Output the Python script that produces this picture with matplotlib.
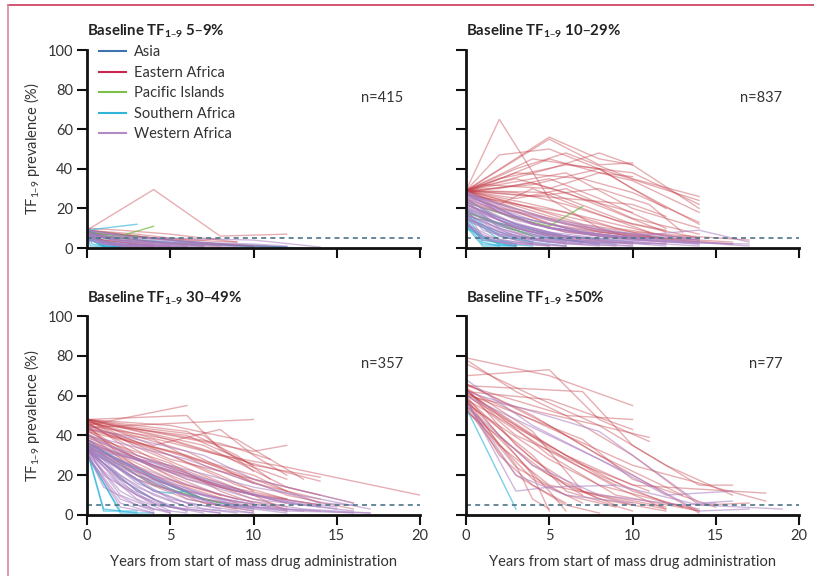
import matplotlib
matplotlib.use('Agg')
import matplotlib.pyplot as plt
from matplotlib.lines import Line2D

plt.rcParams['font.family'] = ['Lato', 'DejaVu Sans']
plt.rcParams['mathtext.default'] = 'regular'

regions = ['Asia', 'Eastern Africa', 'Pacific Islands', 'Southern Africa', 'Western Africa']
region_colors = ['#3f73b0', '#c8254f', '#7cbf4a', '#30b4d8', '#b48ac4']
trace_colors = ['#3f73b0', '#c4404a', '#6fb83c', '#22b0d8', '#a97cc0']
panel_titles = ['5–9%', '10–29%', '30–49%', '≥50%']
panel_n = ['n=415', 'n=837', 'n=357', 'n=77']
x_ticks = [0, 5, 10, 15, 20]
y_ticks = [0, 20, 40, 60, 80, 100]
threshold = 5

# ---- Panel 1: baseline 5-9% (each string: "year,TF year,TF ...")
p1_asia = ["0,9 1,6 3,4 6,2 10,1 13,0", "0,8 2,5 5,3 9,1 12,0.5", "0,9 1,5 2,3 4,1",
           "0,7 1,3 3,1 6,0.5", "0,6 2,2 4,1", "0,9 0.5,4 2,2", "0,8 1,7 4,5 8,2 10,0.5",
           "0,5 1,1 3,0.5", "0,10 1,3 2,1", "0,7 2,4 4,3 7,1", "0,9 3,6 6,3 12,0.5"]
p1_east = ["0,9 4,29.5 8,6 12,7", "0,10 2,9 5,7 9,3", "0,9 3,7 6,4 9,3", "0,7 2,5 5,2 8,1",
           "0,6 1,4 3,2 5,1", "0,8 2,4 4,2", "0,9 4,5 7,4 8,5", "0,8 3,6 6,3 10,1",
           "0,5 2,3 4,1"]
p1_pacific = ["0,8 2,6 4,11", "0,6 2,5 3,6"]
p1_south = ["0,9 3,12", "0,10 0.3,2 1,1 3,1", "0,9 0.2,1 2,0.5", "0,8 1,2 2,1",
            "0,7 0.5,3 1,1", "0,5 1,1 2,0.5", "0,10 0.5,7 1,2"]
p1_west = ["0,6 5,5 10,4 14,0.5", "0,7 2,4 4,2 7,1", "0,8 1,3 3,1 6,0.5", "0,5 2,2 5,1",
           "0,9 3,5 6,3 10,2 12,1", "0,6 1,2 3,1", "0,4 2,1 4,0.5", "0,7 4,3 8,2",
           "0,8 0.5,4 2,2 4,1", "0,7 1,2 2,1 5,0.5", "0,9 2,3 4,2 6,1 9,0.5",
           "0,6 3,3 6,2 9,1", "0,8 1,5 3,3 5,2", "0,5 1,3 2,1 4,0.5",
           "0,9 2,6 5,4 8,2 11,1", "0,7 3,2 6,1", "0,4 1,2 3,1 7,0.5"]

# ---- Panel 2: baseline 10-29%
p2_asia = ["0,20 2,12 4,6 7,3", "0,15 2,8 5,3", "0,18 3,10 6,4 9,2", "0,12 1,5 3,2",
           "0,25 2,14 5,7 8,4", "0,16 4,9 7,3", "0,22 3,12 6,6 10,3", "0,14 2,7 4,3 6,1",
           "0,19 2,11 5,5 8,2", "0,27 3,16 7,8 11,4"]
p2_east = ["0,29 2,65 5,25 8,10 10,5", "0,29 2,47 5,50 8,40 10,30 14,12",
           "0,29 5,56 8,45 10,42", "0,29 5,55 8,42 10,43", "0,29 3,40 6,48 10,35 14,26",
           "0,29 4,45 8,40 14,24", "0,29 5,40 8,48 10,42 14,20", "0,29 2,35 6,42 10,38 14,22",
           "0,29 3,38 7,35 10,28 14,13", "0,29 4,32 8,40 12,20", "0,29 2,30 5,35 8,25 12,10",
           "0,29 6,38 10,20 14,10", "0,29 3,25 6,30 10,15 14,7", "0,28 4,33 7,25 10,18",
           "0,29 5,28 10,12 14,5", "0,27 3,22 6,18 9,10 12,4", "0,29 2,20 5,15 8,8 12,5",
           "0,29 4,20 7,12 10,8 17,4", "0,26 3,18 6,10 10,6 14,3", "0,29 2,22 4,30 7,20 11,8",
           "0,25 3,15 6,8 10,5", "0,28 2,18 5,10 8,6", "0,29 5,18 9,10 14,4 16,3",
           "0,24 4,12 8,6 12,3", "0,29 3,35 6,28 9,18 12,8", "0,29 1,32 5,30 8,38 10,34 14,18",
           "0,22 3,10 6,5 10,2", "0,29 6,25 10,22 12,16", "0,29 4,26 8,30 11,22 13,8",
           "0,28 5,45 8,38 10,36", "0,29 5,12 10,6 16,2", "0,29 3,20 6,12 9,8 12,5 14,4",
           "0,29 4,22 8,14 12,6 14,5", "0,27 2,24 5,16 8,9 11,6", "0,29 3,28 6,22 9,14 12,9"]
p2_pacific = ["0,23 3,15 5,11 7,21", "0,18 2,12 4,6"]
p2_south = ["0,14 1,3 2,1", "0,12 1,2 3,1", "0,16 1,5 2,2", "0,11 1,1 3,1", "0,10 2,2 4,1",
            "0,18 2,6 4,3", "0,13 1,4 3,1", "0,17 2,4 3,2"]
p2_west = ["0,28 3,18 7,10 10,6 14,9 17,3", "0,26 4,14 8,7 12,4 16,2", "0,25 2,15 5,8 8,5 14,2",
           "0,22 3,10 6,4 10,2", "0,20 2,9 4,4 7,2", "0,27 5,15 10,7 14,4", "0,18 1,6 3,3 6,1",
           "0,15 2,6 4,2", "0,24 3,12 6,6 9,3 12,1", "0,20 4,8 8,4 14,1", "0,12 2,4 4,2",
           "0,28 2,20 4,12 8,6 11,5", "0,23 5,10 10,5 17,1", "0,17 3,6 6,3", "0,14 1,5 3,1",
           "0,21 2,12 5,6 8,3 12,2", "0,19 3,8 6,3 9,1", "0,26 3,14 6,8 10,4 14,3",
           "0,16 2,7 5,3 8,1", "0,29 2,18 5,10 9,6 14,4", "0,24 2,10 4,5 6,2",
           "0,13 1,4 3,2 6,1", "0,27 4,12 8,6 12,3 17,2", "0,22 4,9 7,4 11,2", "0,18 2,8 4,3",
           "0,25 3,16 7,8 10,5 14,2", "0,20 1,9 3,4 5,1", "0,11 2,3 5,1",
           "0,23 2,14 4,7 7,3 10,1", "0,28 5,14 9,8 14,5", "0,15 3,5 6,2 10,1",
           "0,21 3,11 6,6 9,4 12,2", "0,17 2,10 4,5 8,2"]

# ---- Panel 3: baseline 30-49%
p3_asia = ["0,38 3,20 6,10 9,4", "0,33 3,12 5,4", "0,36 4,18 7,8 10,3", "0,34 2,18 4,8"]
p3_east = ["0,45 6,55", "0,44 10,48", "0,48 6,50 8,33 10,25", "0,48 4,35 8,43 10,30 12,20",
           "0,47 8,30 12,24 20,10", "0,48 5,40 10,32 12,35", "0,46 6,40 10,25 14,19",
           "0,45 5,38 9,28 14,17", "0,48 4,40 8,30 12,18", "0,42 5,32 10,20 12,12",
           "0,47 3,30 6,22 10,10", "0,40 4,25 8,15 12,8", "0,48 6,42 9,30 11,18",
           "0,44 3,28 6,15 9,8", "0,38 4,20 8,10 12,3", "0,46 5,28 10,18 14,10",
           "0,48 2,40 5,30 8,20 10,12", "0,43 4,38 7,25 10,16", "0,36 5,22 9,12 14,5",
           "0,41 3,22 6,12 10,5", "0,48 7,35 12,14 16,6", "0,47 4,42 8,36 11,28",
           "0,39 6,18 10,10 12,2", "0,45 2,30 4,18 7,8", "0,48 5,45 9,38 13,18",
           "0,34 3,18 6,8 9,3", "0,43 6,30 9,20 12,10 16,3", "0,48 3,44 7,40 10,22",
           "0,37 4,16 7,6 10,2", "0,42 3,30 6,20 10,8 12,4", "0,46 4,28 8,14 12,6",
           "0,40 5,26 8,12 10,6", "0,48 3,34 7,20 10,10 14,5", "0,44 5,30 9,15 12,8",
           "0,38 3,26 6,14 9,6", "0,47 6,32 10,16 14,8", "0,35 4,20 7,8 10,4",
           "0,45 4,34 8,24 12,12 14,6", "0,43 2,32 5,20 8,10"]
p3_pacific = ["0,35 4,15 8,6"]
p3_south = ["0,32 1,2 3,2", "0,31 2,1 4,1", "0,33 1,3 2,2", "0,34 4,12 5,11 6,12",
            "0,30 2,2 3,1", "0,36 5,15 7,8"]
p3_west = ["0,33 5,25 10,14 14,8 17,3", "0,40 6,28 10,16 14,6 16,5", "0,34 2,18 4,8 6,2",
           "0,32 3,10 5,2", "0,35 4,15 8,5 12,2", "0,33 1,22 3,8 5,1", "0,38 4,24 8,14 12,6 16,2",
           "0,31 2,12 4,3", "0,36 3,16 6,6 10,1", "0,44 7,30 10,18 14,10 16,6",
           "0,33 4,12 7,3 10,1", "0,34 5,18 9,8 13,3 17,1", "0,30 2,6 4,1",
           "0,37 3,20 7,10 11,4", "0,32 3,14 6,4 9,1", "0,35 6,20 10,10 15,4",
           "0,33 2,15 4,5 8,1", "0,33 2,16 4,6 6,2", "0,35 3,18 5,8 8,3", "0,31 1,14 3,5 5,1",
           "0,38 3,22 6,12 9,5 13,2", "0,34 4,20 7,10 10,4 14,2", "0,32 2,10 4,3 6,1",
           "0,36 4,26 8,16 11,8 15,3", "0,33 3,12 5,4 8,1", "0,39 5,24 9,12 13,5",
           "0,30 2,8 4,2", "0,34 1,20 3,10 5,4 7,1", "0,37 2,24 5,12 8,5 12,1",
           "0,33 5,16 8,8 12,3 16,1", "0,35 2,20 4,10 6,4", "0,32 4,18 6,8 10,2",
           "0,41 3,28 6,18 10,8 14,4", "0,33 3,18 6,10 9,5 12,2 17,1", "0,31 2,4 4,1"]

# ---- Panel 4: baseline >=50%
p4_asia = []
p4_east = ["0,79 5,70 10,55", "0,78 3,62 6,50 10,48", "0,76 4,60 8,45 11,39",
           "0,70 5,73 8,48 11,37", "0,65 7,62 10,35 14,15 16,15", "0,62 5,58 10,43",
           "0,66 4,50 8,30 13,10", "0,60 3,45 6,30 10,15 18,11", "0,63 6,40 10,25 18,7",
           "0,58 2,40 4,25 7,10", "0,64 3,35 6,15 9,5", "0,55 3,30 5,12 6,2", "0,60 4,20 5,2",
           "0,57 3,25 4,8 5,3", "0,62 5,35 8,20 12,6 14,3", "0,59 2,35 5,15 9,8 12,3",
           "0,65 6,50 10,30 14,5 17,6", "0,53 4,18 7,6", "0,61 3,40 7,25 11,12",
           "0,56 5,28 8,15 14,2", "0,64 4,42 7,12 10,5", "0,58 6,30 10,12 13,4",
           "0,60 8,45 12,25 16,10", "0,54 3,20 6,5 8,1", "0,63 2,48 5,32 9,15",
           "0,57 4,30 6,12 10,2", "0,66 5,45 9,25 14,1", "0,52 5,20 8,8 12,2",
           "0,61 7,38 10,18 15,4", "0,59 4,28 7,12 12,4", "0,55 3,24 6,10 9,4",
           "0,63 5,30 9,10 14,2", "0,58 2,30 4,15 6,6", "0,62 6,28 9,14 12,3"]
p4_pacific = []
p4_south = ["0,54 3,3"]
p4_west = ["0,62 8,42 14,6 16,7", "0,68 4,45 8,28 12,10 16,12", "0,58 3,12 5,14 9,15 14,5 19,3",
           "0,60 5,40 10,20 14,2 17,3", "0,55 4,25 8,10 13,5 15,6", "0,57 3,20 6,10 10,6"]

panels = [
    [p1_asia, p1_east, p1_pacific, p1_south, p1_west],
    [p2_asia, p2_east, p2_pacific, p2_south, p2_west],
    [p3_asia, p3_east, p3_pacific, p3_south, p3_west],
    [p4_asia, p4_east, p4_pacific, p4_south, p4_west],
]
trace_alpha = [0.5, 0.42, 0.7, 0.6, 0.55]


def parse(s):
    pts = [p.split(',') for p in s.split()]
    return [float(a) for a, b in pts], [float(b) for a, b in pts]


W, H = 814, 576
fig = plt.figure(figsize=(W / 100, H / 100), dpi=100)

# figure frame lines
fig.add_artist(Line2D([8 / W, 1], [1 - 5 / H, 1 - 5 / H], color='#c8385a', lw=1.2,
                      transform=fig.transFigure))
fig.add_artist(Line2D([8 / W, 8 / W], [0, 1 - 5 / H], color='#d9869b', lw=1.2,
                      transform=fig.transFigure))

ax_px = [(87, 50, 248), (466, 50, 248), (87, 316, 515), (466, 316, 515)]
axw = 333
sub = r'$_{1–9}$'
for i, (x0, ytop, ybot) in enumerate(ax_px):
    ax = fig.add_axes([x0 / W, 1 - ybot / H, axw / W, (ybot - ytop) / H])
    ax.set_xlim(0, 20)
    ax.set_ylim(0, 100)
    for spine in ['top', 'right']:
        ax.spines[spine].set_visible(False)
    for spine in ['left', 'bottom']:
        ax.spines[spine].set_linewidth(2)
        ax.spines[spine].set_color('#111111')
    ax.set_xticks(x_ticks)
    ax.set_yticks(y_ticks)
    ax.tick_params(direction='out', length=7, width=1.5, colors='#111111',
                   labelcolor='#333333', labelsize=10.5, pad=3)
    if i < 2:
        ax.set_xticklabels([])
    else:
        ax.set_xlabel('Years from start of mass drug administration', fontsize=10.5,
                      color='#333333', labelpad=9)
    if i % 2 == 1:
        ax.set_yticklabels([])
    else:
        ax.text(-0.165, 0.5, 'TF' + sub + ' prevalence (%)', transform=ax.transAxes,
                rotation=90, ha='center', va='center', fontsize=10.5, color='#333333')

    for r, lines in enumerate(panels[i]):
        for s in lines:
            xs, ys = parse(s)
            ax.plot(xs, ys, color=trace_colors[r], lw=1.0, alpha=trace_alpha[r],
                    solid_joinstyle='miter')

    ax.plot([0, 20], [threshold, threshold], color='#4d7488', lw=1.2, ls=(0, (3, 2.5)))

    ty = 1.075 if i < 2 else 1.068
    ax.text(0, ty, 'Baseline TF' + sub + ' ' + panel_titles[i], transform=ax.transAxes,
            ha='left', va='baseline', fontsize=10.8, fontweight='bold', color='#222222')
    ax.text(19, 76, panel_n[i], ha='right', va='center', fontsize=10.5, color='#333333')

    if i == 0:
        handles = [Line2D([], [], color=c, lw=1.5) for c in region_colors]
        ax.legend(handles, regions, loc='upper left', bbox_to_anchor=(0.035, 1.025),
                  frameon=False, fontsize=10.5, handlelength=1.9, handletextpad=0.55,
                  labelspacing=0.45, borderpad=0, borderaxespad=0, labelcolor='#333333')

fig.savefig('out.png', dpi=100)
